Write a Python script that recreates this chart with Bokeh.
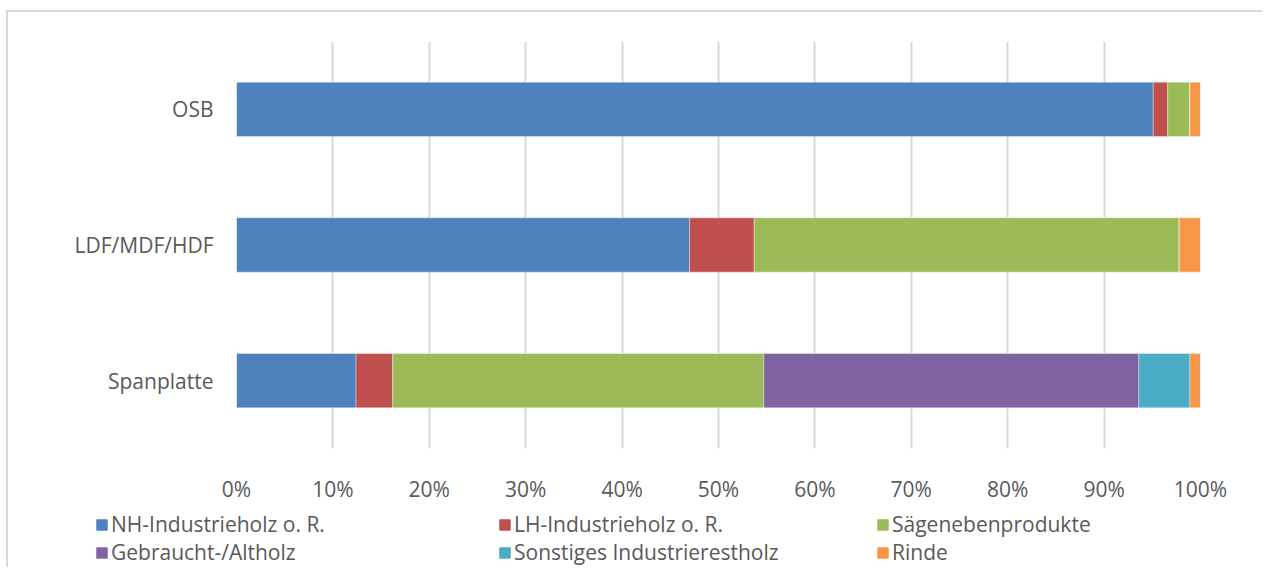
from bokeh.plotting import figure
from bokeh.layouts import column
from bokeh.models import FactorRange, Range1d, FixedTicker, Legend, LegendItem
from bokeh.embed import file_html
from bokeh.resources import INLINE

categories = ["Spanplatte", "LDF/MDF/HDF", "OSB"]
series = ["NH-Industrieholz o. R.", "LH-Industrieholz o. R.", "Sägenebenprodukte",
          "Gebraucht-/Altholz", "Sonstiges Industrierestholz", "Rinde"]
nh = [12.4, 47.0, 95.1]
lh = [3.8, 6.7, 1.5]
saege = [38.5, 44.1, 2.3]
alt = [38.9, 0.0, 0.0]
sonst = [5.3, 0.0, 0.0]
rinde = [1.1, 2.2, 1.1]
colors = ["#4f81bd", "#c0504d", "#9bbb59", "#8064a2", "#4bacc6", "#f79646"]
tick_values = [0, 10, 20, 30, 40, 50, 60, 70, 80, 90, 100]
tick_labels = ["0%", "10%", "20%", "30%", "40%", "50%", "60%", "70%", "80%", "90%", "100%"]

keys = ["nh", "lh", "saege", "alt", "sonst", "rinde"]
data = dict(cat=categories, nh=nh, lh=lh, saege=saege, alt=alt, sonst=sonst, rinde=rinde)

FONT = "Open Sans"
FSIZE = "21px"
TXT = "#595959"

p = figure(width=1254, height=493, y_range=FactorRange(*categories),
           x_range=Range1d(0, 100), output_backend="svg", toolbar_location=None,
           min_border_left=228, min_border_right=62, min_border_top=29, min_border_bottom=49)
p.frame_align = False
p.outline_line_color = None

rs = p.hbar_stack(keys, y="cat", height=0.4, color=colors, source=data,
                  line_color="white", line_width=0.6, line_alpha=0.6)

p.xaxis.ticker = FixedTicker(ticks=tick_values)
p.xaxis.major_label_overrides = {v: l for v, l in zip(tick_values, tick_labels)}
for ax in (p.xaxis, p.yaxis):
    ax.axis_line_color = None
    ax.major_tick_line_color = None
    ax.minor_tick_line_color = None
    ax.major_label_text_font = FONT
    ax.major_label_text_font_size = FSIZE
    ax.major_label_text_color = TXT
p.xaxis.major_label_standoff = 20
p.yaxis.major_label_standoff = 17
p.xgrid.grid_line_color = "#d9d9d9"
p.xgrid.grid_line_width = 2
p.ygrid.grid_line_color = None

# legend strip below the chart; its own (hidden) copies of the series feed the legend glyphs
lf = figure(width=1254, height=62, y_range=FactorRange(*categories),
            x_range=Range1d(0, 100), output_backend="svg", toolbar_location=None,
            x_axis_location=None, y_axis_location=None,
            min_border_left=0, min_border_right=0, min_border_top=0, min_border_bottom=0)
lf.frame_align = False
lf.outline_line_color = None
lf.xgrid.grid_line_color = None
lf.ygrid.grid_line_color = None
lrs = lf.hbar_stack(keys, y="cat", height=0.4, color=colors, source=data)
for r in lrs:
    r.visible = False

cols = [[0, 3], [1, 4], [2, 5]]
xs = [87, 490, 868]
for c, x in zip(cols, xs):
    items = [LegendItem(label=series[i], renderers=[lrs[i]]) for i in c]
    leg = Legend(items=items, location=(x, 1), orientation="vertical",
                 border_line_color=None, background_fill_alpha=0,
                 padding=0, margin=0, spacing=0, label_height=24,
                 glyph_width=13, glyph_height=13, label_standoff=3,
                 label_text_font=FONT, label_text_font_size=FSIZE,
                 label_text_color=TXT, click_policy="none")
    lf.add_layout(leg, "center")

layout = column(p, lf, spacing=0)
layout.styles = {"border-top": "2px solid #d9d9d9", "border-left": "2px solid #d9d9d9",
                 "margin-left": "6px", "margin-top": "10px"}

open("out.html", "w").write(file_html(layout, INLINE))
